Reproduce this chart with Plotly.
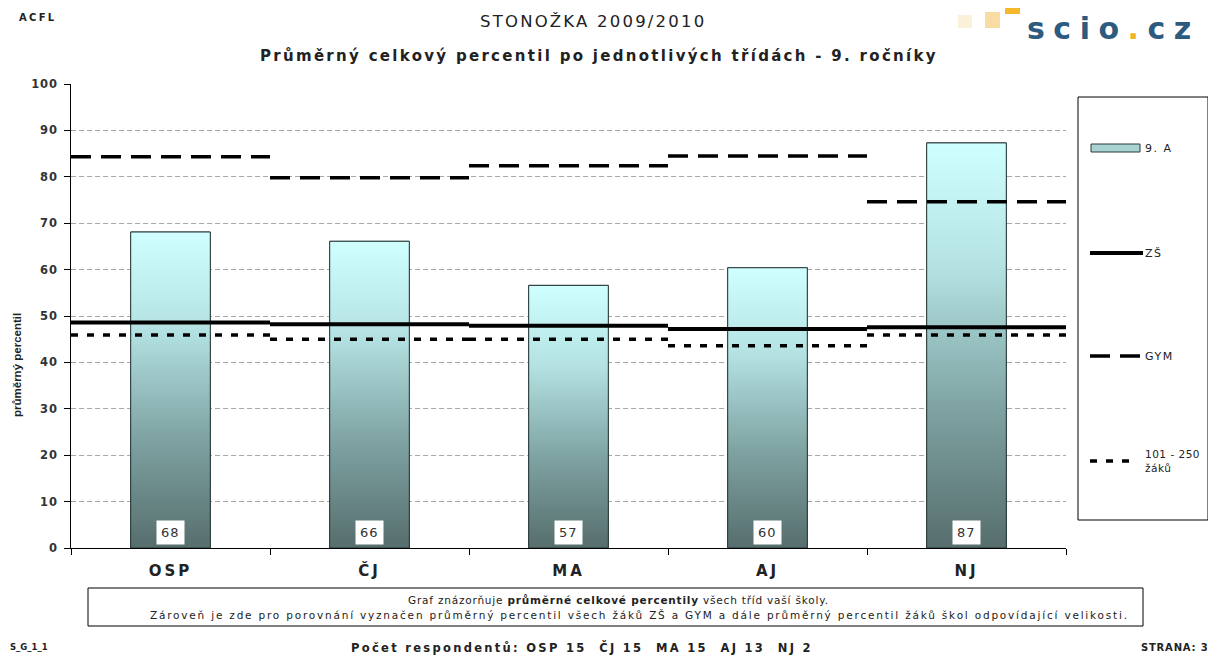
import plotly.graph_objects as go

categories = ["OSP", "ČJ", "MA", "AJ", "NJ"]
class_values = [68.1, 66.1, 56.6, 60.4, 87.3]          # 9. A
class_labels = ["68", "66", "57", "60", "87"]
zs_values = [48.6, 48.2, 47.9, 47.2, 47.6]              # ZŠ
gym_values = [84.3, 79.8, 82.4, 84.5, 74.6]             # GYM
size_values = [45.9, 45.0, 45.0, 43.6, 45.9]            # 101 - 250 žáků
respondents = [15, 15, 15, 13, 2]
y_ticks = list(range(0, 101, 10))

# page body has an 8px margin, so the figure is placed 8px right/down
OFF = 8
W, H = 1216 - OFF, 655 - OFF
L, R, T, B = 71, 1066, 84, 548  # plot area in screen pixels


def px(x):
    return (x - L) / (R - L)


def py(y):
    return (B - y) / (B - T)


def sp(text, ls):
    return f"<span style='letter-spacing:{ls}px'>{text}</span>"


WIDE = "DejaVu Sans, Verdana, sans-serif"
TXT = "#222222"

idx = list(range(len(categories)))
bar_w = 0.4

fig = go.Figure()

fig.add_trace(go.Bar(
    x=idx, y=class_values, width=bar_w, name="9. A",
    marker=dict(color="#a9d3d3", line=dict(color="#2a3a3a", width=1)),
    hoverinfo="skip", showlegend=False,
))

for i, v in zip(idx, class_values):
    fig.add_trace(go.Scatter(
        x=[i - bar_w / 2, i + bar_w / 2, i + bar_w / 2, i - bar_w / 2, i - bar_w / 2],
        y=[0, 0, v, v, 0],
        mode="lines", fill="toself",
        fillgradient=dict(type="vertical",
                          colorscale=[[0, "#566e6d"], [0.35, "#7fa3a3"],
                                      [0.7, "#b5e3e3"], [1, "#d0ffff"]]),
        line=dict(color="#2a3a3a", width=1),
        showlegend=False, hoverinfo="skip",
    ))


def segments(vals):
    xs, ys = [], []
    for i, v in zip(idx, vals):
        xs += [i - 0.5, i + 0.5, None]
        ys += [v, v, None]
    return xs, ys


ZS_LINE = dict(color="black", width=4)
GYM_LINE = dict(color="black", width=3.5, dash="20px,10px")
SIZE_LINE = dict(color="black", width=3.5, dash="7px,9px")

for vals, line, name in [(zs_values, ZS_LINE, "ZŠ"), (gym_values, GYM_LINE, "GYM"),
                         (size_values, SIZE_LINE, "101 - 250 žáků")]:
    sx, sy = segments(vals)
    fig.add_trace(go.Scatter(x=sx, y=sy, mode="lines", line=line, name=name,
                             connectgaps=False, showlegend=False, hoverinfo="skip"))

annotations = []
for i, lab in zip(idx, class_labels):
    annotations.append(dict(
        x=i, y=0, xref="x", yref="y", text=sp(lab, 1), showarrow=False,
        xanchor="center", yanchor="bottom", yshift=3, bgcolor="white", borderpad=4,
        font=dict(family=WIDE, size=13, color="#333333"),
    ))


def note(x, y, text, size, bold=False, anchor="center", ls=1.0, family=WIDE, color=TXT,
         yanchor="middle"):
    t = f"<b>{text}</b>" if bold else text
    return dict(x=px(x), y=py(y), xref="paper", yref="paper", text=sp(t, ls),
                xanchor=anchor, yanchor=yanchor, align="left" if anchor == "left" else "center",
                showarrow=False, font=dict(family=family, size=size, color=color))


annotations += [
    note(37, 17, "ACFL", 10, bold=True, ls=2.3),
    note(593, 21, "STONOŽKA 2009/2010", 16.5, ls=2.2),
    note(599, 56, "Průměrný celkový percentil po jednotlivých třídách - 9. ročníky", 15,
         bold=True, ls=2.3),
    note(1113, 9, "<b>scio<span style='color:#f0b428'>.</span>cz</b>", 30, ls=8.5,
         color="#2d5b80", yanchor="top"),
    dict(x=px(17), y=py(365), xref="paper", yref="paper", text="<b>průměrný percentil</b>",
         textangle=-90, showarrow=False, xanchor="center", yanchor="middle",
         font=dict(family="Liberation Sans Narrow, Arial Narrow, Liberation Sans, sans-serif",
                   size=11.5, color=TXT)),
    note(618, 600, "Graf znázorňuje <b>průměrné celkové percentily</b> všech tříd vaší školy.",
         10.5, ls=0.8),
    note(639, 615, "Zároveň je zde pro porovnání vyznačen průměrný percentil všech žáků ZŠ a GYM "
         "a dále průměrný percentil žáků škol odpovídající velikosti.", 10.5, ls=1.8),
    note(582, 647, "Počet respondentů: " + "  ".join(f"{c} {n}" for c, n in zip(categories, respondents)),
         11.5, bold=True, ls=2.3),
    note(8, 647, "S_G_1_1", 8.5, bold=True, anchor="left", ls=0),
    note(1210, 647, "STRANA: 3", 10, bold=True, anchor="right", ls=0.8),
    # legend texts
    note(1143, 148, "9. A", 11, anchor="left", ls=1.5),
    note(1143, 253, "ZŠ", 11, anchor="left", ls=1.5),
    note(1143, 356, "GYM", 11, anchor="left", ls=1.5),
    note(1143, 461, "101 - 250<br>žáků", 10.5, anchor="left", ls=0.5),
]

shapes = [
    # legend frame
    dict(type="rect", xref="paper", yref="paper", x0=px(1078), x1=px(1208),
         y0=py(520), y1=py(97), line=dict(color="black", width=1)),
    # legend symbols
    dict(type="rect", xref="paper", yref="paper", x0=px(1091), x1=px(1140),
         y0=py(152), y1=py(144), line=dict(color="#2a3a3a", width=1), fillcolor="#a9d3d3"),
    dict(type="line", xref="paper", yref="paper", x0=px(1090), x1=px(1143),
         y0=py(253), y1=py(253), line=ZS_LINE),
    dict(type="line", xref="paper", yref="paper", x0=px(1090), x1=px(1143),
         y0=py(356), y1=py(356), line=GYM_LINE),
    dict(type="line", xref="paper", yref="paper", x0=px(1090), x1=px(1136),
         y0=py(461), y1=py(461), line=SIZE_LINE),
    # note frame
    dict(type="rect", xref="paper", yref="paper", x0=px(88), x1=px(1143),
         y0=py(626), y1=py(588), line=dict(color="black", width=1)),
    # logo squares
    dict(type="rect", xref="paper", yref="paper", x0=px(958), x1=px(972),
         y0=py(28), y1=py(15), line=dict(width=0), fillcolor="#fbf0da"),
    dict(type="rect", xref="paper", yref="paper", x0=px(985), x1=px(1000),
         y0=py(28), y1=py(12), line=dict(width=0), fillcolor="#f8dca4"),
    dict(type="rect", xref="paper", yref="paper", x0=px(1005), x1=px(1020),
         y0=py(14), y1=py(0), line=dict(width=0), fillcolor="#f5b82a"),
]

fig.update_layout(
    width=W, height=H,
    margin=dict(l=L - OFF, r=W - (R - OFF), t=T - OFF, b=H - (B - OFF), pad=0),
    paper_bgcolor="white", plot_bgcolor="white",
    showlegend=False,
    annotations=annotations, shapes=shapes,
    xaxis=dict(range=[-0.5, 4.5], tickvals=idx, ticktext=[sp(c, 3) for c in categories], ticks="",
               showgrid=False, zeroline=False, showline=True, linecolor="black", linewidth=1,
               tickfont=dict(family=WIDE, size=15, color=TXT, weight="bold"),
               ticklabelstandoff=9,
               minor=dict(tickvals=[i - 0.5 for i in idx] + [idx[-1] + 0.5], ticks="outside",
                          ticklen=6, tickcolor="black", showgrid=False)),
    yaxis=dict(range=[0, 100], tickvals=y_ticks, ticktext=[sp(str(t), 0.8) for t in y_ticks],
               ticks="outside", ticklen=6, tickcolor="black",
               showgrid=False, zeroline=False, showline=True, linecolor="black", linewidth=1,
               tickfont=dict(family=WIDE, size=11.5, color="#333", weight="bold"),
               ticklabelstandoff=4,
               minor=dict(tickvals=y_ticks[1:-1], showgrid=True, gridcolor="#a8a8a8",
                          griddash="5px,3px", gridwidth=1, ticks="")),
)

fig.write_html("out.html")
